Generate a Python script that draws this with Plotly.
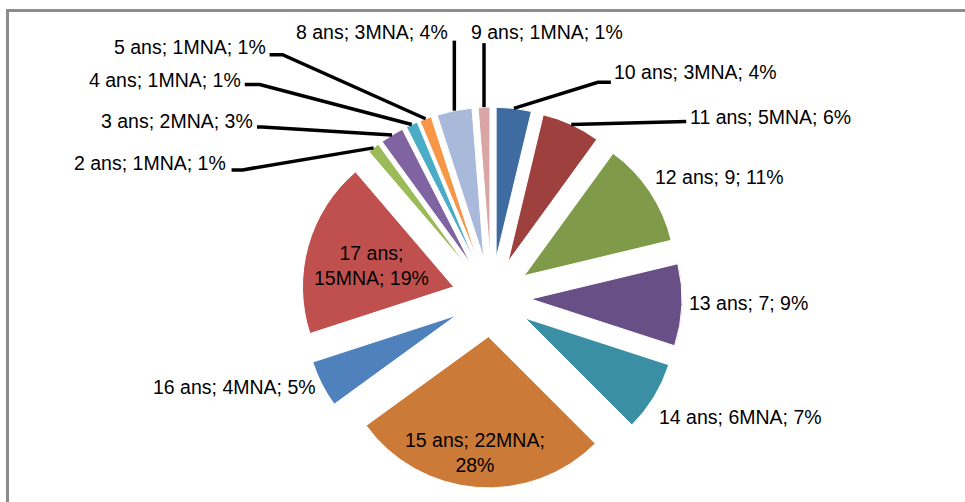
import math
import plotly.graph_objects as go

# ---------------- data ----------------
ages = ["10 ans", "11 ans", "12 ans", "13 ans", "14 ans", "15 ans", "16 ans",
        "17 ans", "2 ans", "3 ans", "4 ans", "5 ans", "8 ans", "9 ans"]
counts = [3, 5, 9, 7, 6, 22, 4, 15, 1, 2, 1, 1, 3, 1]
count_labels = ["3MNA", "5MNA", "9", "7", "6MNA", "22MNA", "4MNA", "15MNA",
                "1MNA", "2MNA", "1MNA", "1MNA", "3MNA", "1MNA"]
percents = ["4%", "6%", "11%", "9%", "7%", "28%", "5%", "19%",
            "1%", "3%", "1%", "1%", "4%", "1%"]

# ---------------- styles ----------------
colors = ["#3E6BA0", "#9E413E", "#7F9A48", "#684F86", "#3B8FA5", "#CC7A37",
          "#4F81BD", "#C0504D", "#9BBB59", "#8064A2", "#4BACC6", "#F79646",
          "#A9B9D9", "#D9A6A5"]

W, H = 965, 502
M = dict(l=18, r=0, t=107, b=14)
PW = W - M["l"] - M["r"]
PH = H - M["t"] - M["b"]
PULL = 0.26
FONT = "Liberation Sans, Arial, sans-serif"
FS = 19.5


def to_paper(x, y):
    return (x - M["l"]) / PW, 1 - (y - M["t"]) / PH


# pie geometry as plotly computes it (outer extent incl. pull = half of min box side)
cx = M["l"] + PW / 2
cy = M["t"] + PH / 2
R = min(PW, PH) / 2

total = sum(counts)
anchors = []
cum = 0
for c in counts:
    mid = (cum + c / 2) / total * 2 * math.pi
    anchors.append((cx + R * math.sin(mid), cy - R * math.cos(mid)))
    cum += c

# label placement (pixel centres) and line breaks
label_pos = {
    "10 ans": (695, 72), "11 ans": (770, 117), "12 ans": (719, 177),
    "13 ans": (748, 303), "14 ans": (740, 417), "15 ans": (475, 452),
    "16 ans": (234, 387), "17 ans": (371, 265), "2 ans": (150, 163),
    "3 ans": (177, 121), "4 ans": (165, 80), "5 ans": (190, 47),
    "8 ans": (372, 32), "9 ans": (547, 32),
}
breaks = {"15 ans": 2, "17 ans": 1}

# leader line vertices, as pixel offsets from the slice's outer mid point
leaders = {
    "10 ans": [(84, -26), (97, -26)],
    "11 ans": [(115, -3)],
    "2 ans": [(-131, 22), (-142, 22)],
    "3 ans": [(-130, -8), (-135, -8)],
    "4 ans": [(-152, -40), (-167, -40)],
    "5 ans": [(-143, -64), (-156, -64)],
    "8 ans": [(0, -70)],
    "9 ans": [(0, -64)],
}

fig = go.Figure(go.Pie(
    values=counts, labels=ages, sort=False, direction="clockwise", rotation=0,
    pull=PULL, textinfo="none", showlegend=False,
    marker=dict(colors=colors, line=dict(color="white", width=1)),
    hovertemplate="%{label}: %{value}<extra></extra>",
))

annotations = []
shapes = []
for i, age in enumerate(ages):
    parts = [age, count_labels[i], percents[i]]
    if age in breaks:
        k = breaks[age]
        text = "; ".join(parts[:k]) + ";<br>" + "; ".join(parts[k:])
    else:
        text = "; ".join(parts)
    lx, ly = to_paper(*label_pos[age])
    annotations.append(dict(
        x=lx, y=ly, xref="paper", yref="paper", text=text, showarrow=False,
        xanchor="center", yanchor="middle", align="center",
        font=dict(family=FONT, size=FS, color="black"),
    ))
    if age in leaders:
        ax0, ay0 = anchors[i]
        pts = [(ax0, ay0)] + [(ax0 + dx, ay0 + dy) for dx, dy in leaders[age]]
        path = ""
        for j, (px, py) in enumerate(pts):
            qx, qy = to_paper(px, py)
            path += ("M" if j == 0 else " L") + f" {qx:.5f} {qy:.5f}"
        shapes.append(dict(type="path", path=path, xref="paper", yref="paper",
                           line=dict(color="black", width=3.5), layer="above"))

# chart frame (top and left edges visible in the crop)
fx0, fy0 = to_paper(7.5, 10.5)
fx1, fy1 = to_paper(1000, 560)
shapes.append(dict(type="rect", xref="paper", yref="paper", x0=fx0, y0=fy1,
                   x1=fx1, y1=fy0, line=dict(color="#8C8C8C", width=3),
                   layer="below"))

fig.update_layout(
    width=W, height=H,
    margin=M,
    paper_bgcolor="white", plot_bgcolor="white",
    annotations=annotations,
    shapes=shapes,
    font=dict(family=FONT, size=FS, color="black"),
)

fig.write_html(
    "out.html",
    config={"displayModeBar": False},
    post_script="document.body.style.margin='0';document.body.style.overflow='hidden';",
)
